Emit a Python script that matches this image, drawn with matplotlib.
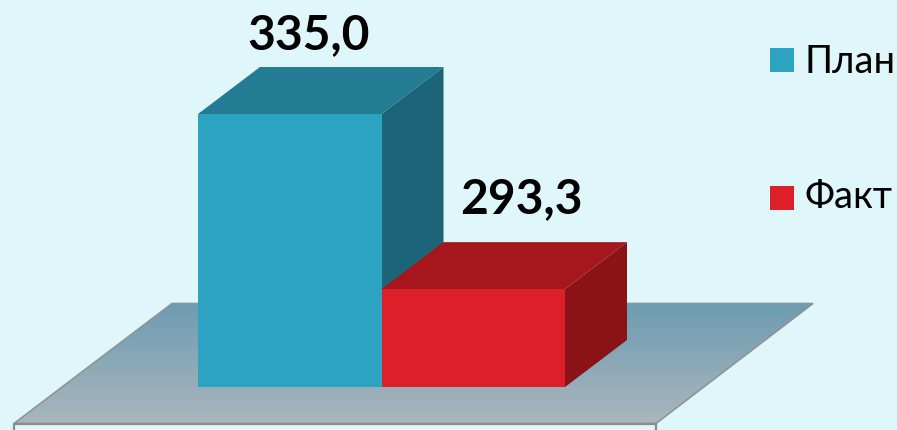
import numpy as np
import matplotlib
matplotlib.use("Agg")
import matplotlib.pyplot as plt
from matplotlib.patches import Polygon

plt.rcParams['font.family'] = ['Lato', 'DejaVu Sans']

categories = ["План", "Факт"]
values = [335.0, 293.3]
value_labels = ["335,0", "293,3"]
front_colors = ["#2ca3c1", "#dc1f28"]
top_colors = ["#237b94", "#a6171d"]
side_colors = ["#1c6579", "#8b1216"]

BG = "#dff6fb"
W, H = 897, 430
BASE = 270.0
PX_PER_VALUE = 4.2   # truncated value axis
BAR_PX = 183.5
DEPTH_X = 62 / BAR_PX
DEPTH_Y = 47 / PX_PER_VALUE

fig = plt.figure(figsize=(W / 100, H / 100), dpi=100, facecolor=BG)

# floor, in pixel coords
floor_ax = fig.add_axes([0, 0, 1, 1])
floor_ax.set_xlim(0, W)
floor_ax.set_ylim(H, 0)
floor_ax.axis("off")
grad = np.linspace(0, 1, 128).reshape(-1, 1)
cmap = matplotlib.colors.LinearSegmentedColormap.from_list("floor", ["#6d9cb2", "#aab6bc"])
floor = Polygon([(14, 423.5), (172, 303.5), (813, 303.5), (656, 423.5)], closed=True,
                facecolor="none", edgecolor="#8f9596", linewidth=1.2)
im = floor_ax.imshow(grad, cmap=cmap, extent=(14, 813, 423.5, 303.5), aspect="auto", zorder=1)
floor_ax.add_patch(floor)
im.set_clip_path(floor)
floor.set_zorder(2)
floor_ax.plot([14, 14, 656, 656], [430, 423.5, 423.5, 430], color="#8c8c8c", lw=1.6, zorder=2,
              solid_joinstyle="miter", clip_on=True)
floor_ax.set_xlim(0, W)
floor_ax.set_ylim(H, 0)

# bars, x in bar widths and y in chart values
ax = fig.add_axes([0, 0, 1, 1])
ax.patch.set_alpha(0)
ax.axis("off")
ax.set_xlim(-198 / BAR_PX, (W - 198) / BAR_PX)
ax.set_ylim(BASE - (H - 387) / PX_PER_VALUE, BASE + 387 / PX_PER_VALUE)

# draw back to front, the second bar sits in front of the first one's side
for i, v in enumerate(values):
    l, r = i, i + 1
    ax.add_patch(Polygon([(r, BASE), (r + DEPTH_X, BASE + DEPTH_Y), (r + DEPTH_X, v + DEPTH_Y), (r, v)],
                         facecolor=side_colors[i], edgecolor="none"))
    ax.add_patch(Polygon([(l, v), (l + DEPTH_X, v + DEPTH_Y), (r + DEPTH_X, v + DEPTH_Y), (r, v)],
                         facecolor=top_colors[i], edgecolor="none"))
    ax.add_patch(Polygon([(l, BASE), (l, v), (r, v), (r, BASE)],
                         facecolor=front_colors[i], edgecolor="none"))

label_x = [309, 521]
label_y = [49, 213]
for s, x, y in zip(value_labels, label_x, label_y):
    floor_ax.text(x, y, s, ha="center", va="baseline", fontsize=34.5, fontweight="bold",
                  color="black", zorder=5)

# legend
leg_y = [60, 198]
leg_base = [73, 208]
for name, c, y, b in zip(categories, front_colors, leg_y, leg_base):
    floor_ax.add_patch(plt.Rectangle((770, y - 12), 24, 24, facecolor=c, edgecolor="none", zorder=5))
    floor_ax.text(805, b, name, ha="left", va="baseline", fontsize=27.5, color="black", zorder=5)

floor_ax.set_zorder(3)
floor_ax.patch.set_alpha(0)
ax.set_zorder(4)

fig.savefig("out.png", dpi=100, facecolor=BG)
